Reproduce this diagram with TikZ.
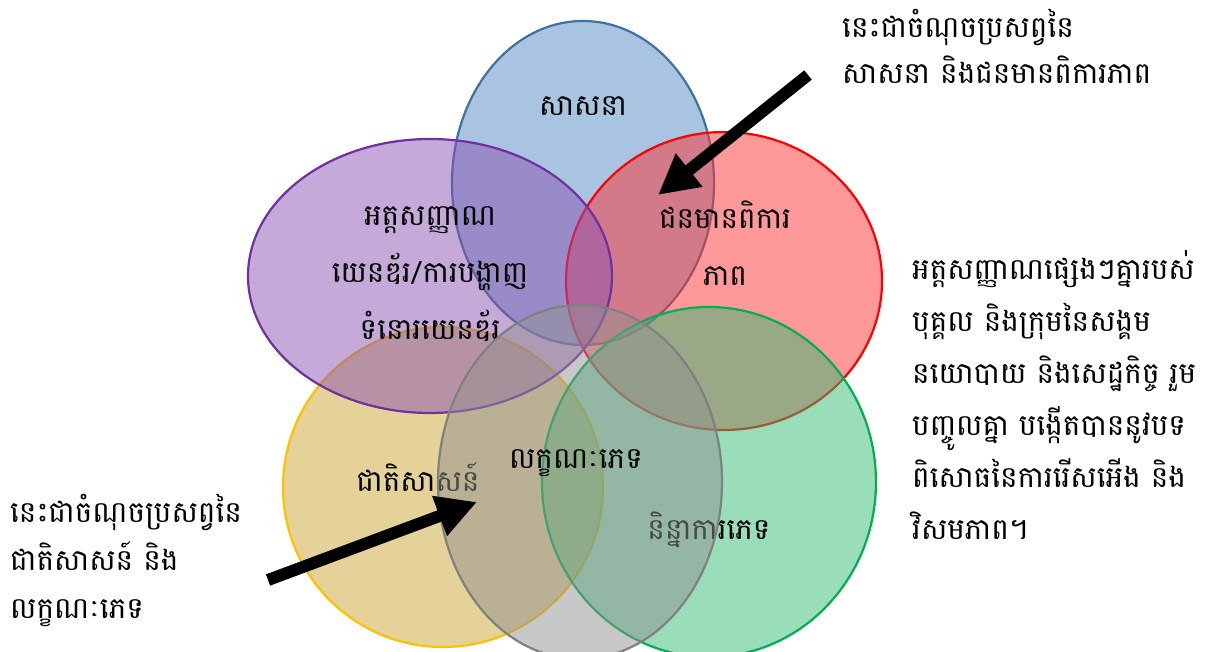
\documentclass[tikz,border=0pt]{standalone}
\usepackage{fontspec}
\setmainfont[Script=Khmer]{Battambang}
\usetikzlibrary{arrows.meta}

\definecolor{sasanafill}{RGB}{83,137,193}
\definecolor{sasanaline}{RGB}{65,113,156}
\definecolor{pikarfill}{RGB}{255,51,51}
\definecolor{jatifill}{RGB}{201,165,49}
\definecolor{jatiline}{RGB}{255,192,0}
\definecolor{yenderfill}{RGB}{139,83,177}
\definecolor{yenderline}{RGB}{112,48,160}
\definecolor{ninnafill}{RGB}{51,187,115}
\definecolor{ninnaline}{RGB}{0,176,80}
\definecolor{phetfill}{RGB}{145,145,145}
\definecolor{phetline}{RGB}{128,128,128}

\begin{document}
\begin{tikzpicture}[x=1pt,y=1pt,
    venn/.style={line width=2.2pt,fill opacity=0.5},
    lbl/.style={font=\fontsize{29.5}{57}\selectfont,align=center,inner sep=0pt},
    note/.style={align=left,anchor=west,inner sep=0pt},
    pointer/.style={line width=12pt,-{Triangle[length=40pt,width=40pt]}}]
    \useasboundingbox (0,0) rectangle (1215,652);
    % the six sets
    \filldraw[venn,fill=sasanafill,draw=sasanaline] (583,469) ellipse [x radius=131,y radius=162];
    \node[lbl](sasana)at(583,546){សាសនា};
    \filldraw[venn,fill=pikarfill,draw=red] (724,371) ellipse [x radius=158,y radius=149];
    \node[lbl](pikar)at(725,409){ជនមានពិការ\\ភាព};
    \filldraw[venn,fill=jatifill,draw=jatiline] (443,165) ellipse [x radius=160,y radius=160];
    \node[lbl](jati)at(418,175){ជាតិសាសន៍};
    \filldraw[venn,fill=yenderfill,draw=yenderline] (430,376) ellipse [x radius=182,y radius=137];
    \node[lbl](yender)at(430,378){អត្តសញ្ញាណ\\យេនឌ័រ/ការបង្ហាញ\\ទំនោរយេនឌ័រ};
    \filldraw[venn,fill=ninnafill,draw=ninnaline] (709,170) ellipse [x radius=167,y radius=175];
    \node[lbl](ninna)at(709,122){និន្នាការភេទ};
    \filldraw[venn,fill=phetfill,draw=phetline] (580,170) ellipse [x radius=142,y radius=177];
    \node[lbl](phet)at(576,189){លក្ខណៈភេទ};
    % notes
    \node[note,font=\fontsize{29.5}{46}\selectfont](topnote)at(842,606){នេះជាចំណុចប្រសព្វនៃ\\សាសនា និងជនមានពិការភាព};
    \node[note,font=\fontsize{29.5}{52}\selectfont](rightnote)at(912,257){អត្តសញ្ញាណផ្សេងៗគ្នារបស់\\បុគ្គល និងក្រុមនៃសង្គម\\នយោបាយ និងសេដ្ឋកិច្ច រួម\\បញ្ចូលគ្នា បង្កើតបាននូវបទ\\ពិសោធនៃការរើសអើង និង\\វិសមភាព។};
    \node[note,font=\fontsize{29.5}{48}\selectfont](leftnote)at(10,92){នេះជាចំណុចប្រសព្វនៃ\\ជាតិសាសន៍ និង\\លក្ខណៈភេទ};
    % arrows
    \coordinate (toptail) at (808,577);
    \coordinate (toptip) at (658,457);
    \coordinate (lefttail) at (268,72);
    \coordinate (lefttip) at (477,150);
    \draw[pointer] (toptail) -- (toptip);
    \draw[pointer] (lefttail) -- (lefttip);
\end{tikzpicture}
\end{document}
